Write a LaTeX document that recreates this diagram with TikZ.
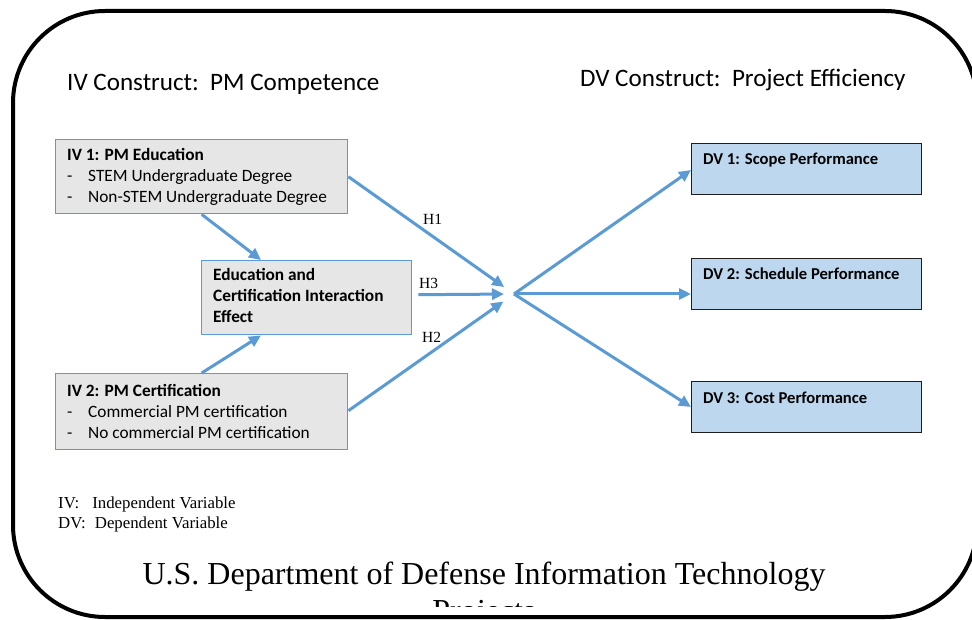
\documentclass[tikz,border=0pt]{standalone}
\usepackage{fontspec}
\setmainfont{Carlito}
\newfontfamily\timesf{Liberation Serif}
\usetikzlibrary{arrows.meta,calc}
\definecolor{arrblue}{HTML}{5B9BD5}
\definecolor{boxgray}{HTML}{E6E6E6}
\definecolor{dvblue}{HTML}{BDD7EE}
\definecolor{dvborder}{HTML}{1E1E1E}
\begin{document}
\begin{tikzpicture}[x=1pt,y=-1pt,
  ivbox/.style={draw=arrblue, line width=1.4pt, fill=boxgray, anchor=north west, inner sep=0pt},
  dvbox/.style={draw=dvborder, line width=1.4pt, fill=dvblue, anchor=north west, inner sep=0pt, minimum width=230pt, minimum height=51pt},
  boxtxt/.style={anchor=base west, inner sep=0pt, font=\fontsize{17.3}{21}\selectfont},
  boldtxt/.style={boxtxt, font=\fontsize{17.3}{21}\selectfont\bfseries},
  dvtxt/.style={anchor=base west, inner sep=0pt, font=\fontsize{16.6}{20}\selectfont\bfseries},
  headtxt/.style={anchor=base west, inner sep=0pt, font=\fontsize{25.1}{30}\selectfont},
  hlab/.style={anchor=base west, inner sep=0pt, font=\timesf\fontsize{15.5}{18}\selectfont},
  legtxt/.style={anchor=base west, inner sep=0pt, font=\timesf\fontsize{16.8}{20}\selectfont},
  conn/.style={draw=arrblue, line width=3pt, -{Triangle[length=12pt,width=11pt]}},
]
\useasboundingbox (0,0) rectangle (972,620);
\fill[white] (0,0) rectangle (972,620);

% headings
\node[headtxt] (ivhead) at (67,90.5) {IV Construct:\ \ PM Competence};
\node[headtxt] (dvhead) at (580,87) {DV Construct:\ \ Project Efficiency};

% IV boxes
\node[ivbox, minimum width=292pt, minimum height=74pt] (iv1) at (55,139) {};
\node[boldtxt] (iv1t) at (67,161) {IV 1: PM Education};
\node[boxtxt] (iv1a) at (67,182) {\makebox[21pt][l]{-}STEM Undergraduate Degree};
\node[boxtxt] (iv1b) at (67,203) {\makebox[21pt][l]{-}Non-STEM Undergraduate Degree};

\node[ivbox, minimum width=210pt, minimum height=74pt] (inter) at (201,260) {};
\node[boldtxt] (intera) at (213,281) {Education and};
\node[boldtxt] (interb) at (213,302) {Certification Interaction};
\node[boldtxt] (interc) at (213,323) {Effect};

\node[ivbox, minimum width=292pt, minimum height=76pt] (iv2) at (55,373) {};
\node[boldtxt] (iv2t) at (67,396) {IV 2: PM Certification};
\node[boxtxt] (iv2a) at (67,417) {\makebox[21pt][l]{-}Commercial PM certification};
\node[boxtxt] (iv2b) at (67,438) {\makebox[21pt][l]{-}No commercial PM certification};

% DV boxes
\node[dvbox] (dv1) at (691,143) {};
\node[dvtxt] (dv1t) at (703,165) {DV 1: Scope Performance};
\node[dvbox] (dv2) at (691,258) {};
\node[dvtxt] (dv2t) at (703,280) {DV 2: Schedule Performance};
\node[dvbox] (dv3) at (691,381) {};
\node[dvtxt] (dv3t) at (703,403) {DV 3: Cost Performance};

% hub
\coordinate (hub) at (514,294);

% connectors
\draw[conn, shorten >=12pt] (iv1.east) -- (hub);
\draw[conn, shorten >=10pt] ($(inter.east)+(6,-3)$) -- (hub);
\draw[conn, shorten >=13pt] ($(iv2.east)+(0,-1)$) -- (hub);
\draw[conn] (hub) -- ($(dv1.north west)+(0,27)$);
\draw[conn] (hub) -- ($(dv2.north west)+(0,36)$);
\draw[conn] (hub) -- ($(dv3.north west)+(0,26)$);
\draw[conn] (iv1.south) -- ($(inter.north west)+(60,0)$);
\draw[conn] (iv2.north) -- ($(inter.south west)+(60,0)$);

% hypothesis labels
\node[hlab] (h1) at (423,225) {H1};
\node[hlab] (h3) at (419,289) {H3};
\node[hlab] (h2) at (422,343) {H2};

% legend
\node[legtxt] (leg1) at (58,508) {IV:\hspace{13pt}Independent Variable};
\node[legtxt] (leg2) at (58,528) {DV:\hspace{9pt}Dependent Variable};

% bottom title
\node[anchor=base, inner sep=0pt, font=\timesf\fontsize{32}{37}\selectfont] (title1) at (484,584) {U.S. Department of Defense Information Technology};
\begin{scope}
\clip (0,0) rectangle (972,606);
\node[anchor=base, inner sep=0pt, font=\timesf\fontsize{32}{37}\selectfont] (title2) at (484,621) {Projects};
\end{scope}

% frame
\draw[line width=4pt, rounded corners=92pt] (13,11) rectangle (977,617);
\end{tikzpicture}
\end{document}
